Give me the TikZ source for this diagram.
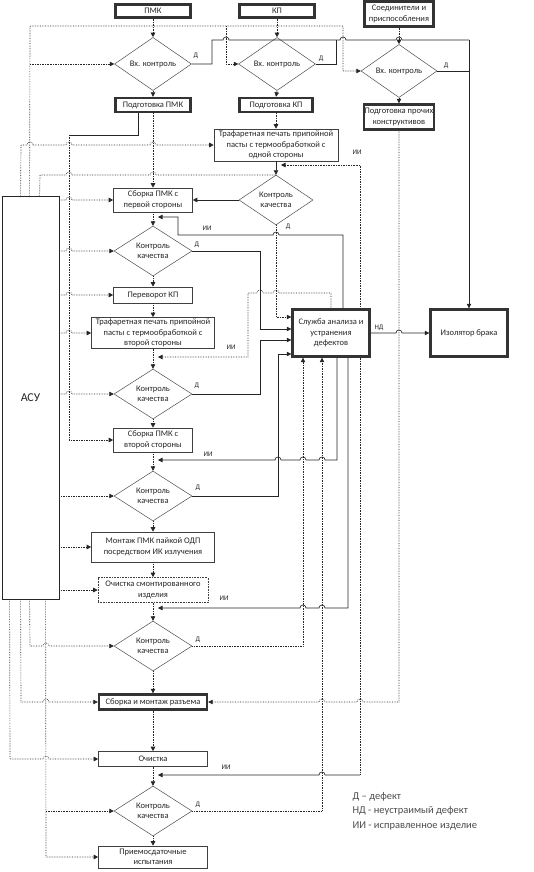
\documentclass[tikz,border=0pt]{standalone}
\usepackage{fontspec}
\setmainfont{Carlito}
\usetikzlibrary{shapes.geometric,arrows.meta}
\newcommand\jmpR[2]{-- (#1-3,#2) arc[start angle=180,end angle=0,radius=3pt]}
\newcommand\jmpL[2]{-- (#1+3,#2) arc[start angle=0,end angle=180,radius=3pt]}
\begin{document}
\begin{tikzpicture}[x=1pt,y=-1pt,
  every node/.style={font=\fontsize{8.5}{10.5}\selectfont, text=black!85},
  box/.style={draw=black!75, line width=0.6pt, rectangle, align=center, inner sep=0.5pt},
  bbox/.style={box, draw=black!80, line width=2.4pt},
  dbox/.style={box, densely dotted},
  dec/.style={diamond, draw=black!70, line width=0.5pt, align=center, inner sep=0pt, minimum width=78pt, minimum height=46pt},
  lab/.style={font=\fontsize{7}{8}\selectfont, inner sep=0pt},
  fl/.style={draw=black!85, line width=0.65pt, -{Triangle[length=4.5pt,width=4.5pt]}},
  dl/.style={fl, densely dotted},
  ln/.style={draw=black!85, line width=0.65pt},
  dln/.style={ln, densely dotted}]
\useasboundingbox (0,0) rectangle (534,872);
% ---------- nodes ----------
\node[bbox, minimum width=75pt, minimum height=13pt] (pmk) at (153,11) {ПМК};
\node[bbox, minimum width=75pt, minimum height=13pt] (kp) at (277,11) {КП};
\node[bbox, minimum width=69pt, minimum height=25pt] (soed) at (399,14) {Соединители и\\приспособления};
\node[dec, minimum width=77pt, minimum height=45pt] (vk1) at (153,64) {Вх. контроль};
\node[dec, minimum width=77pt, minimum height=45pt] (vk2) at (277,64) {Вх. контроль};
\node[dec, minimum width=76pt, minimum height=46pt] (vk3) at (399,71) {Вх. контроль};
\node[bbox, minimum width=75pt, minimum height=14pt] (podpmk) at (153,105) {Подготовка ПМК};
\node[bbox, minimum width=73pt, minimum height=14pt] (podkp) at (276,105) {Подготовка КП};
\node[bbox, minimum width=69pt, minimum height=25pt] (podpr) at (399,117) {Подготовка прочих\\конструктивов};
\node[box, minimum width=124pt, minimum height=32pt] (traf1) at (276,145) {Трафаретная печать припойной\\пасты с термообработкой с\\одной стороны};
\node[dec, minimum width=74pt] (kk1) at (276,200) {Контроль\\качества};
\node[box, minimum width=79pt, minimum height=24pt] (sb1) at (153,200) {Сборка ПМК с\\первой стороны};
\node[box, draw=black!85, line width=0.8pt, minimum width=57pt, minimum height=403pt, font=\fontsize{12}{13}\selectfont] (asu) at (30.5,397.5) {АСУ};
\node[dec] (kk2) at (153,251) {Контроль\\качества};
\node[box, minimum width=79pt, minimum height=16pt] (per) at (153,295) {Переворот КП};
\node[box, minimum width=123pt, minimum height=31pt] (traf2) at (153,333) {Трафаретная печать припойной\\пасты с термообработкой с\\второй стороны};
\node[bbox, minimum width=77pt, minimum height=47pt] (sl) at (331,333) {Служба анализа и\\устранения\\дефектов};
\node[bbox, minimum width=77pt, minimum height=47pt] (iz) at (469,333) {Изолятор брака};
\node[dec] (kk3) at (153,394) {Контроль\\качества};
\node[box, minimum width=79pt, minimum height=24pt] (sb2) at (153,440) {Сборка ПМК с\\второй стороны};
\node[dec] (kk4) at (153,496) {Контроль\\качества};
\node[box, minimum width=123pt, minimum height=30pt] (mont) at (153,547) {Монтаж ПМК пайкой ОДП\\посредством ИК излучения};
\node[dbox, minimum width=110pt, minimum height=25pt] (och1) at (153,590) {Очистка смонтированного\\изделия};
\node[dec] (kk5) at (153,646) {Контроль\\качества};
\node[bbox, minimum width=108pt, minimum height=15pt] (raz) at (153,702) {Сборка и монтаж разъема};
\node[box, minimum width=109pt, minimum height=15pt] (och2) at (153,759) {Очистка};
\node[dec, minimum height=45pt] (kk6) at (153,811) {Контроль\\качества};
\node[box, minimum width=109pt, minimum height=22pt] (pri) at (153,857) {Приемосдаточные\\испытания};
% ---------- main flow ----------
\draw[dl] (pmk.south) -- (vk1.north);
\draw[dl] (kp.south) -- (vk2.north);
\draw[dl] (soed.south) -- (vk3.north);
\draw[fl] (vk1.south) -- (podpmk.north);
\draw[fl] (vk2.south) -- (podkp.north);
\draw[fl] (vk3.south) -- (podpr.north);
\draw[dl] (podkp.south) -- (traf1.north);
\draw[fl] (traf1.south) -- (kk1.north);
\draw[fl] (kk1.west) -- (sb1.east);
\draw[dl] (podpmk.south) -- (sb1.north);
\foreach \a/\b in {sb1/kk2,kk2/per,per/traf2,traf2/kk3,kk3/sb2,sb2/kk4,kk4/mont,mont/och1,och1/kk5,kk5/raz,raz/och2,och2/kk6,kk6/pri}
  \draw[dl] (\a.south) -- (\b.north);
% ---------- incoming control ----------
\draw[dl] ([xshift=28pt]asu.north west) -- (30,26) -- (343,26) -- (343,71) -- (vk3.west);
\draw[dl] (30,64) -- (vk1.west);
\draw[dl] (226,26) -- (226,64) -- (vk2.west);
\draw[ln] (vk1.east) -- (212,64) -- (212,40) \jmpR{226}{40} -- (336,40) \jmpR{343}{40} \jmpR{399}{40} -- (469,40);
\draw[fl] (469,40) -- (iz.north);
\draw[ln] (vk2.east) -- (336,64) -- (336,40);
\draw[ln] (vk3.east) -- (469,71);
\node[lab] (d1) at (196,56) {Д};
\node[lab] (d2) at (321,59) {Д};
\node[lab] (d3) at (446,66) {Д};
% ---------- PMK preparation to second side ----------
\draw[ln] ([xshift=-15pt]podpmk.south) -- (138,135) -- (69,135);
\draw[dl] (69,135) -- (69,440) -- (sb2.west);
% ---------- defects to service ----------
\draw[dl] (kk1.south) -- (276,317) -- ([yshift=16pt]sl.west);
\draw[fl] (kk2.east) -- (260,251) -- (260,329) -- ([yshift=4pt]sl.west);
\draw[fl] (kk3.east) -- (260,394) -- (260,340) -- ([yshift=-7pt]sl.west);
\draw[fl] (kk4.east) -- (278,496) -- (278,354) -- ([yshift=-21pt]sl.west);
\draw[dl] (kk5.east) -- (303,646) -- ([xshift=-28pt]sl.south);
\draw[dl] (kk6.east) -- (322,811) -- ([xshift=-9pt]sl.south);
\node[lab] (d4) at (288,227) {Д};
\node[lab] (d5) at (197,245) {Д};
\node[lab] (d6) at (197,386) {Д};
\node[lab] (d7) at (198,488) {Д};
\node[lab] (d8) at (198,640) {Д};
\node[lab] (d9) at (198,805) {Д};
\draw[fl] (sl.east) \jmpR{399}{333} -- (iz.west);
\node[lab] (nd) at (379,328) {НД};
% ---------- repaired items back ----------
\draw[fl] ([xshift=12pt]sl.north) -- (343,235) \jmpL{276}{235} -- (178,235) -- (178,217) -- (158,217);
\draw[dl] (sl.north) -- (331,293) \jmpL{276}{293} \jmpL{260}{293} -- (248,293) -- (248,357) -- (158,357);
\draw[dl] ([xshift=29pt]sl.north) -- (360,165) -- (281,165);
\draw[fl] ([xshift=6pt]sl.south) -- (337,460) \jmpL{322}{460} \jmpL{303}{460} \jmpL{278}{460} -- (158,460);
\draw[fl] ([xshift=17pt]sl.south) -- (348,608) \jmpL{322}{608} \jmpL{303}{608} -- (158,608);
\draw[dln] ([xshift=29pt]sl.south) -- (360,775);
\draw[fl] (360,775) \jmpL{322}{775} -- (158,775);
\draw[dl] (podpr.south) -- (399,702) \jmpL{360}{702} \jmpL{322}{702} -- (raz.east);
\node[lab] (ii1) at (357,152) {ИИ};
\node[lab] (ii2) at (207,228) {ИИ};
\node[lab] (ii3) at (231,347) {ИИ};
\node[lab] (ii4) at (208,454) {ИИ};
\node[lab] (ii5) at (224,598) {ИИ};
\node[lab] (ii6) at (226,767) {ИИ};
% ---------- ASU control lines ----------
\draw[dl] ([xshift=19pt]asu.north west) -- (21,145) \jmpR{30}{145} \jmpR{69}{145} \jmpR{153}{145} -- (traf1.west);
\draw[dln] ([xshift=38pt]asu.north west) -- (40,175) \jmpR{69}{175} \jmpR{153}{175} -- (276,175);
\draw[dl] (asu.east |- sb1.west) \jmpR{69}{200} -- (sb1.west);
\draw[dl] (asu.east |- kk2.west) \jmpR{69}{251} -- (kk2.west);
\draw[dl] (asu.east |- per.west) \jmpR{69}{295} -- (per.west);
\draw[dl] (asu.east |- traf2.west) \jmpR{69}{333} -- (traf2.west);
\draw[dl] (asu.east |- kk3.west) \jmpR{69}{394} -- (kk3.west);
\draw[dl] (asu.east |- kk4.west) -- (kk4.west);
\draw[dl] (asu.east |- mont.west) -- (mont.west);
\draw[dl] (asu.east |- och1.west) -- (och1.west);
\draw[dl] ([xshift=8pt]asu.south west) -- (10,759) \jmpR{46}{759} -- (och2.west);
\draw[dl] ([xshift=19pt]asu.south west) -- (21,702) \jmpR{46}{702} -- (raz.west);
\draw[dl] ([xshift=28pt]asu.south west) -- (30,646) \jmpR{46}{646} -- (kk5.west);
\draw[dl] ([xshift=44pt]asu.south west) -- (46,857) -- (pri.west);
\draw[dl] (46,811) -- (kk6.west);
% ---------- legend ----------
\node[anchor=west, text=black!70, font=\fontsize{10.5}{12}\selectfont] (lg1) at (349,797) {Д – дефект};
\node[anchor=west, text=black!70, font=\fontsize{10.5}{12}\selectfont] (lg2) at (349,811) {НД - неустраимый дефект};
\node[anchor=west, text=black!70, font=\fontsize{10.5}{12}\selectfont] (lg3) at (349,826) {ИИ - исправленное изделие};
\end{tikzpicture}
\end{document}
